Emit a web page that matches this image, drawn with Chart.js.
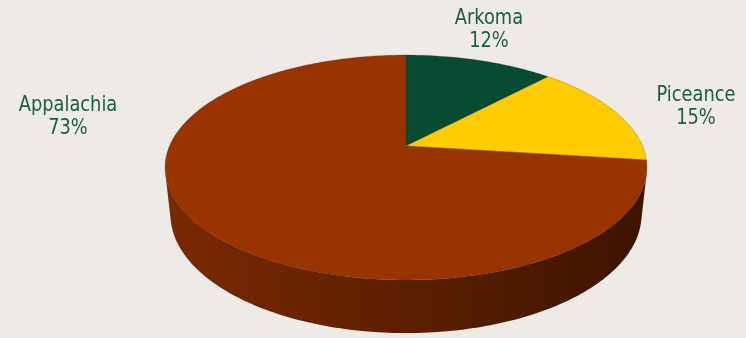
<!DOCTYPE html>
<html>
<head>
<meta charset="utf-8">
<script src="https://cdn.jsdelivr.net/npm/chart.js@4/dist/chart.umd.min.js"></script>
<style>
    html, body { margin: 0; padding: 0; background: #eeeae6; }
    #wrap { width: 746px; height: 338px; position: relative; }
</style>
</head>
<body>
<div id="wrap"><canvas id="basins"></canvas></div>
<script>
const basins = ['Arkoma', 'Piceance', 'Appalachia'];
const shares = [12, 15, 73];
const sliceColors = ['#074a32', '#ffcc00', '#993300'];

// where each label's first line sits (baseline), second line goes below it
const labelPos = [[489, 24], [696, 101], [68, 111]];
const labelLine = 23;

// tilted-disc camera: distance, tilt, thickness (disc radius = 1)
const camDist = 4.65;
const tiltSin = 0.458;
const tiltCos = 0.889;
const thickness = 0.224;
const stretch = 1.62; // horizontal half-width relative to chart radius

function shade(hex, f) {
    const n = parseInt(hex.slice(1), 16);
    const r = Math.round(((n >> 16) & 255) * f);
    const g = Math.round(((n >> 8) & 255) * f);
    const b = Math.round((n & 255) * f);
    return `rgb(${r},${g},${b})`;
}

const pie3d = {
    id: 'pie3d',
    beforeDatasetsDraw(chart) {
        const ctx = chart.ctx;
        const arcs = chart.getDatasetMeta(0).data;
        if (!arcs.length) return false;
        const cx = arcs[0].x;
        const cy = arcs[0].y;
        const halfW = arcs[0].outerRadius * stretch;
        const focal = halfW * camDist;

        // screen angle a -> world X = cos a, Y = -sin a ; Z up
        const proj = (a, r, z) => {
            const X = Math.cos(a) * r;
            const Y = -Math.sin(a) * r;
            const depth = camDist + Y * tiltCos - z * tiltSin;
            return [cx + focal * X / depth, cy - focal * (Y * tiltSin + z * tiltCos) / depth];
        };

        ctx.save();

        // side wall: the wall faces the camera where sin(a) > limit
        const limit = 1 / (camDist * tiltCos);
        const visFrom = Math.asin(limit);
        const visTo = Math.PI - visFrom;
        arcs.forEach((arc, i) => {
            const base = chart.data.datasets[0].backgroundColor[i];
            // arc angles may run past 2π, test both windows
            [0, 2 * Math.PI, -2 * Math.PI].forEach(shift => {
                const a0 = Math.max(arc.startAngle, visFrom + shift);
                const a1 = Math.min(arc.endAngle, visTo + shift);
                if (a1 <= a0) return;
                const n = Math.max(4, Math.ceil((a1 - a0) / (Math.PI / 180)));
                ctx.beginPath();
                for (let k = 0; k <= n; k++) {
                    const p = proj(a0 + (a1 - a0) * k / n, 1, 0);
                    k ? ctx.lineTo(p[0], p[1]) : ctx.moveTo(p[0], p[1]);
                }
                for (let k = n; k >= 0; k--) {
                    const p = proj(a0 + (a1 - a0) * k / n, 1, -thickness);
                    ctx.lineTo(p[0], p[1]);
                }
                ctx.closePath();
                const g = ctx.createLinearGradient(cx - halfW, 0, cx + halfW, 0);
                g.addColorStop(0, shade(base, 0.8));
                g.addColorStop(0.5, shade(base, 0.6));
                g.addColorStop(1, shade(base, 0.4));
                ctx.fillStyle = g;
                ctx.fill();
            });
        });

        // top face slices
        const c = proj(0, 0, 0);
        arcs.forEach((arc, i) => {
            ctx.beginPath();
            ctx.moveTo(c[0], c[1]);
            const n = Math.max(4, Math.ceil((arc.endAngle - arc.startAngle) / (Math.PI / 180)));
            for (let k = 0; k <= n; k++) {
                const a = arc.startAngle + (arc.endAngle - arc.startAngle) * k / n;
                const p = proj(a, 1, 0);
                ctx.lineTo(p[0], p[1]);
            }
            ctx.closePath();
            ctx.fillStyle = chart.data.datasets[0].backgroundColor[i];
            ctx.fill();
            ctx.strokeStyle = 'rgba(60, 40, 20, 0.35)';
            ctx.lineWidth = 0.7;
            ctx.stroke();
        });

        ctx.restore();
        return false;
    },
    afterDraw(chart) {
        const ctx = chart.ctx;
        const values = chart.data.datasets[0].data;
        ctx.save();
        ctx.fillStyle = '#1b5e3f';
        ctx.font = '22px "DejaVu Sans Condensed", "DejaVu Sans", sans-serif';
        ctx.textAlign = 'center';
        ctx.textBaseline = 'alphabetic';
        chart.data.labels.forEach((name, i) => {
            const [x, y] = labelPos[i];
            // squeeze the text a little, the labels use a narrow face
            ctx.save();
            ctx.translate(x, y);
            ctx.scale(0.9, 1);
            ctx.fillText(name, 0, 0);
            ctx.fillText(values[i] + '%', 0, labelLine);
            ctx.restore();
        });
        ctx.restore();
    }
};

new Chart(document.getElementById('basins'), {
    type: 'pie',
    data: {
        labels: basins,
        datasets: [{
            data: shares,
            backgroundColor: sliceColors,
            borderWidth: 0,
        }],
    },
    options: {
        responsive: true,
        maintainAspectRatio: false,
        animation: false,
        layout: {
            padding: { left: 66, right: 0, top: 0, bottom: 46 },
        },
        plugins: {
            legend: { display: false },
            tooltip: { enabled: false },
        },
    },
    plugins: [pie3d],
});
</script>
</body>
</html>
